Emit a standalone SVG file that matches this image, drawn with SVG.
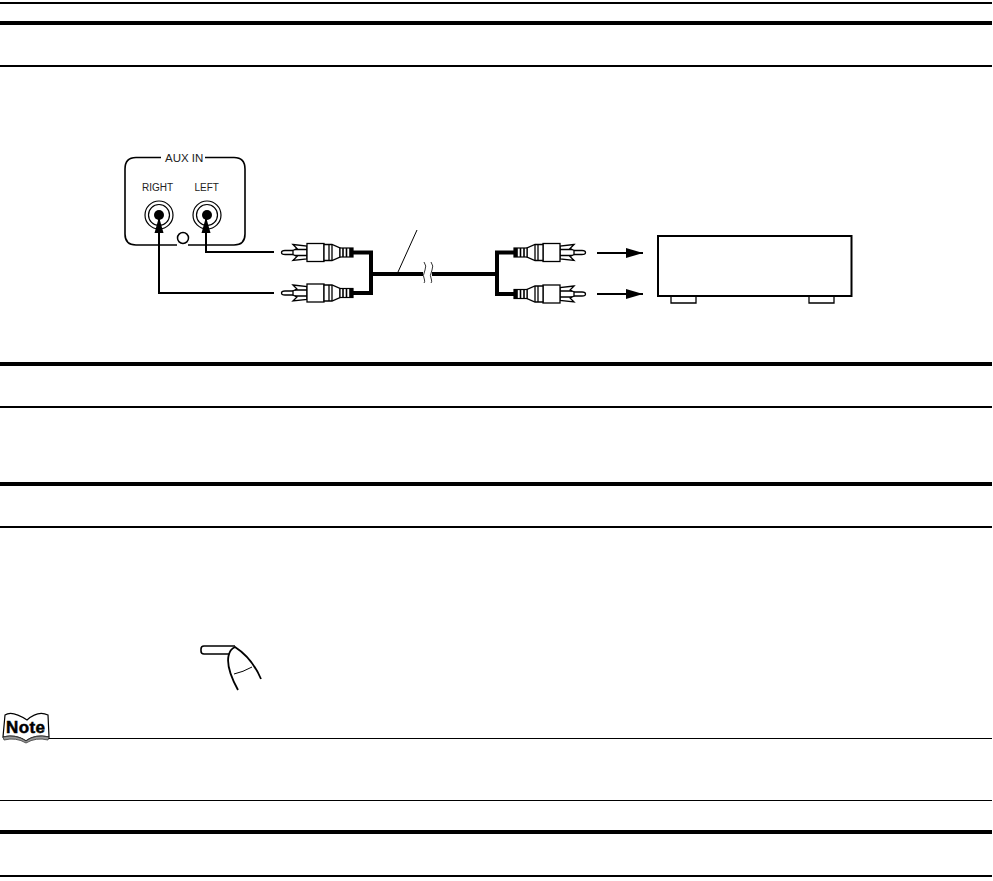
<svg xmlns="http://www.w3.org/2000/svg" width="993" height="881" viewBox="0 0 993 881">
<style>
text{font-family:"Liberation Sans",Arial,sans-serif;fill:#222}
.lbl{font-size:10px}
.plug{fill:#fff;stroke:#000;stroke-width:1.3}
.line{fill:none;stroke:#000;stroke-width:1.300}
.wire{fill:none;stroke:#000;stroke-width:2}
.bold{fill:none;stroke:#000;stroke-width:4}
.rule{fill:#000}
</style>
<defs>
<marker id="head" markerWidth="18" markerHeight="12" refX="17" refY="6" markerUnits="userSpaceOnUse" orient="auto"><path d="M0 1 L17 6 L0 11 Z" fill="#000"/></marker>
<marker id="headS" markerWidth="16" markerHeight="10" refX="16" refY="5" markerUnits="userSpaceOnUse" orient="auto"><path d="M0 0.500 L16 5 L0 9.500 Z" fill="#000"/></marker>
<g id="plugL">
<path class="line" d="M293 -2 H285 Q281.500 -2 281.500 0 Q281.500 2 285 2 H293"/>
<path class="plug" d="M293 -8 L307 -6.500 L307 6.500 L293 8 L297 4 L293 2 L293 -2 L297 -4 Z"/>
<path class="line" d="M295 -3 H307 M295 3 H307"/>
<rect class="plug" x="307" y="-9" width="17" height="18"/>
<path class="plug" d="M324 -8 L332 -8 L340 -4.500 L340 4.500 L332 8 L324 8 Z"/>
<path class="line" d="M329 -8 V8 M332 -8 V8"/>
<rect x="340" y="-4.500" width="13" height="9" fill="#fff" stroke="#000" stroke-width="1.200"/>
<path d="M343 -4.500 V4.500 M346.500 -4.500 V4.500 M350 -4.500 V4.500" fill="none" stroke="#000" stroke-width="1.600"/>
<rect x="350" y="-4.500" width="3" height="9" fill="#000"/>
</g>
</defs>

<g id="rules">
<rect class="rule" x="0" y="2" width="992" height="2"/>
<rect class="rule" x="0" y="21" width="992" height="4"/>
<rect class="rule" x="0" y="65" width="992" height="2"/>
<rect class="rule" x="0" y="362" width="992" height="4"/>
<rect class="rule" x="0" y="406" width="992" height="2"/>
<rect class="rule" x="0" y="482" width="992" height="4"/>
<rect class="rule" x="0" y="526" width="992" height="2"/>
<rect class="rule" x="48" y="738" width="944" height="1"/>
<rect class="rule" x="0" y="800" width="992" height="1"/>
<rect class="rule" x="0" y="830" width="992" height="4"/>
<rect class="rule" x="0" y="875" width="992" height="2"/>
</g>

<g id="aux-panel">
<path d="M161 157.500 H136 Q125 157.500 125 169 V234 Q125 245 136 245 H177 M188 245 H234 Q245 245 245 234 V169 Q245 157.500 234 157.500 H205" fill="none" stroke="#000" stroke-width="1.600"/>
<text x="165" y="161.500" style="font-size:11.500px">AUX IN</text>
<text x="142" y="190.500" class="lbl">RIGHT</text>
<text x="194.500" y="190.500" class="lbl">LEFT</text>
<circle cx="183" cy="238" r="5.500" fill="#fff" stroke="#000" stroke-width="1.500"/>
</g>
<g id="jack-right">
<circle cx="159" cy="215" r="14" fill="#fff" stroke="#000" stroke-width="1.200"/>
<circle cx="159" cy="215" r="10.500" fill="#fff" stroke="#000" stroke-width="1.200"/>
<circle cx="159" cy="215" r="5" fill="#000"/>
</g>
<g id="jack-left">
<circle cx="207" cy="215" r="14" fill="#fff" stroke="#000" stroke-width="1.200"/>
<circle cx="207" cy="215" r="10.500" fill="#fff" stroke="#000" stroke-width="1.200"/>
<circle cx="207" cy="215" r="5" fill="#000"/>
</g>

<g id="plugs-left">
<use href="#plugL" transform="translate(0,252.500)"/>
<use href="#plugL" transform="translate(0,293)"/>
</g>
<g id="plugs-right">
<use href="#plugL" transform="translate(867,252.500) scale(-1,1)"/>
<use href="#plugL" transform="translate(867,294) scale(-1,1)"/>
</g>

<g id="device">
<rect x="658" y="236" width="193.500" height="60" fill="#fff" stroke="#000" stroke-width="2"/>
<path class="line" d="M671 297 V303 H696 V297 M809 297 V303 H834 V297"/>
</g>

<g id="connectors">
<path class="wire" d="M274 252 H206 V217" marker-end="url(#headS)"/>
<path class="wire" d="M274 293 H159 V217" marker-end="url(#headS)"/>
<path class="bold" d="M353 252.500 H371 V293 H353"/>
<path class="bold" d="M371 274 H423 M432 274 H497"/>
<path class="bold" d="M514 252.500 H497 V294 H514"/>
<path d="M398 272 L417 230" fill="none" stroke="#000" stroke-width="1"/>
<path d="M424 262 Q427 266 425 270 Q422 276 424.500 280 Q425 282 424 283 M431 262 Q434 266 432 270 Q429 276 431.500 280 Q432 282 431 283" fill="none" stroke="#000" stroke-width="0.800"/>
<path class="wire" d="M597 253 H643" marker-end="url(#head)"/>
<path class="wire" d="M597 294 H643" marker-end="url(#head)"/>
</g>

<g id="finger-button">
<path d="M235 646 H204 Q201 646 201 649 V651 Q201 654 204 654 H229" fill="none" stroke="#000" stroke-width="1.600"/>
<path d="M238 690 Q226 668 228.500 656 Q230 649 235 647 Q252 658 261 679" fill="#fff" stroke="#000" stroke-width="1.800"/>
<path d="M234 674 Q243 672 252 667" fill="none" stroke="#000" stroke-width="1"/>
</g>

<g id="note-icon">
<path d="M5 715 Q12 710 27 720 Q38 710 48 715 L49 737 Q35 734 26 741 Q16 734 3 737 Z" fill="#fff" stroke="#000" stroke-width="1.200"/>
<path d="M3 737 L4 740 Q16 737 26 743 Q36 737 48 740 L49 737 Q35 734 26 741 Q16 734 3 737 Z" fill="#999" stroke="#333" stroke-width="0.800"/>
<text x="6" y="733" style="font-size:17px;font-weight:bold;stroke:#000;stroke-width:.5;fill:#000" textLength="39">Note</text>
</g>
</svg>
